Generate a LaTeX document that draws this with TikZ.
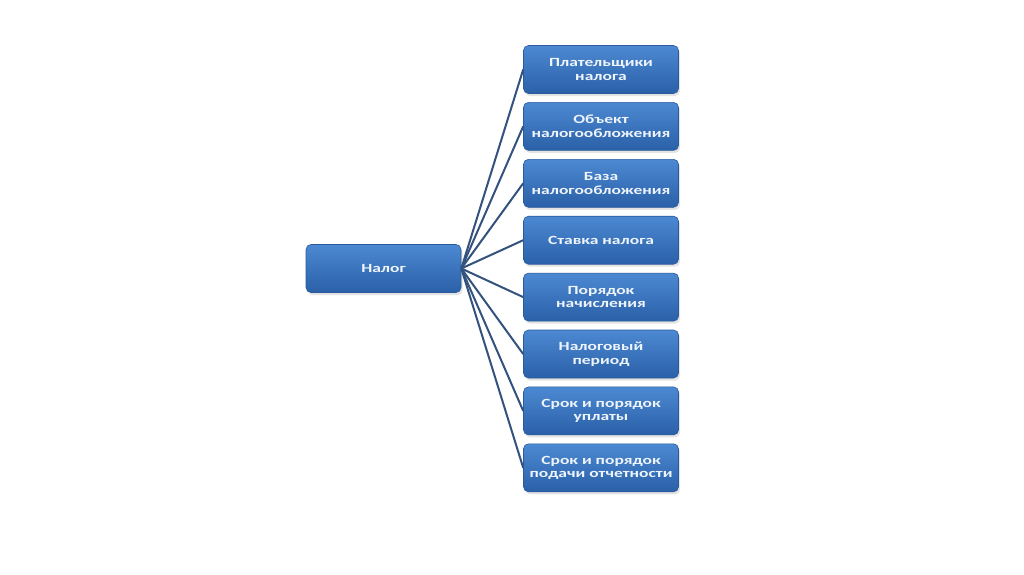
\documentclass[tikz,border=0pt]{standalone}
\usepackage{fontspec}
\newfontfamily\boxfont[FakeStretch=1.4]{Carlito}
\usetikzlibrary{positioning, shadows}
\definecolor{bTop}{HTML}{4C89D2}
\definecolor{bBot}{HTML}{2A60A8}
\definecolor{bEdge}{HTML}{2A5A9C}
\definecolor{bText}{HTML}{EEF4FB}
\definecolor{lnk}{HTML}{34527E}

\begin{document}
\begin{tikzpicture}[x=1pt, y=-1pt,
      box/.style={rounded corners=5pt, draw=bEdge, line width=0.6pt,
        top color=bTop, bottom color=bBot, text=bText, align=center,
        minimum width=155pt, minimum height=48pt, inner sep=2pt,
        font=\boxfont\bfseries\fontsize{12.5}{13.5}\selectfont,
        drop shadow={opacity=0.22, shadow xshift=1.5pt, shadow yshift=-2.5pt}},
      link/.style={lnk, line width=2pt}]
    \useasboundingbox[fill=white] (0,0) rectangle (1024,574);
    \node[box] (nalog) at (383.5,268.5) {Налог};
    % elements of the tax
    \foreach \i/\txt in {
        1/{Плательщики\\налога}, 2/{Объект\\налогообложения},
        3/{База\\налогообложения}, 4/{Ставка налога},
        5/{Порядок\\начисления}, 6/{Налоговый\\период},
        7/{Срок и порядок\\уплаты}, 8/{Срок и порядок\\подачи отчетности}} {
      \node[box] (p\i) at (601,{69.5+56.9*(\i-1)}) {\txt};
      \draw[link] (nalog.east) -- (p\i.west);
    }
  \end{tikzpicture}
\end{document}
